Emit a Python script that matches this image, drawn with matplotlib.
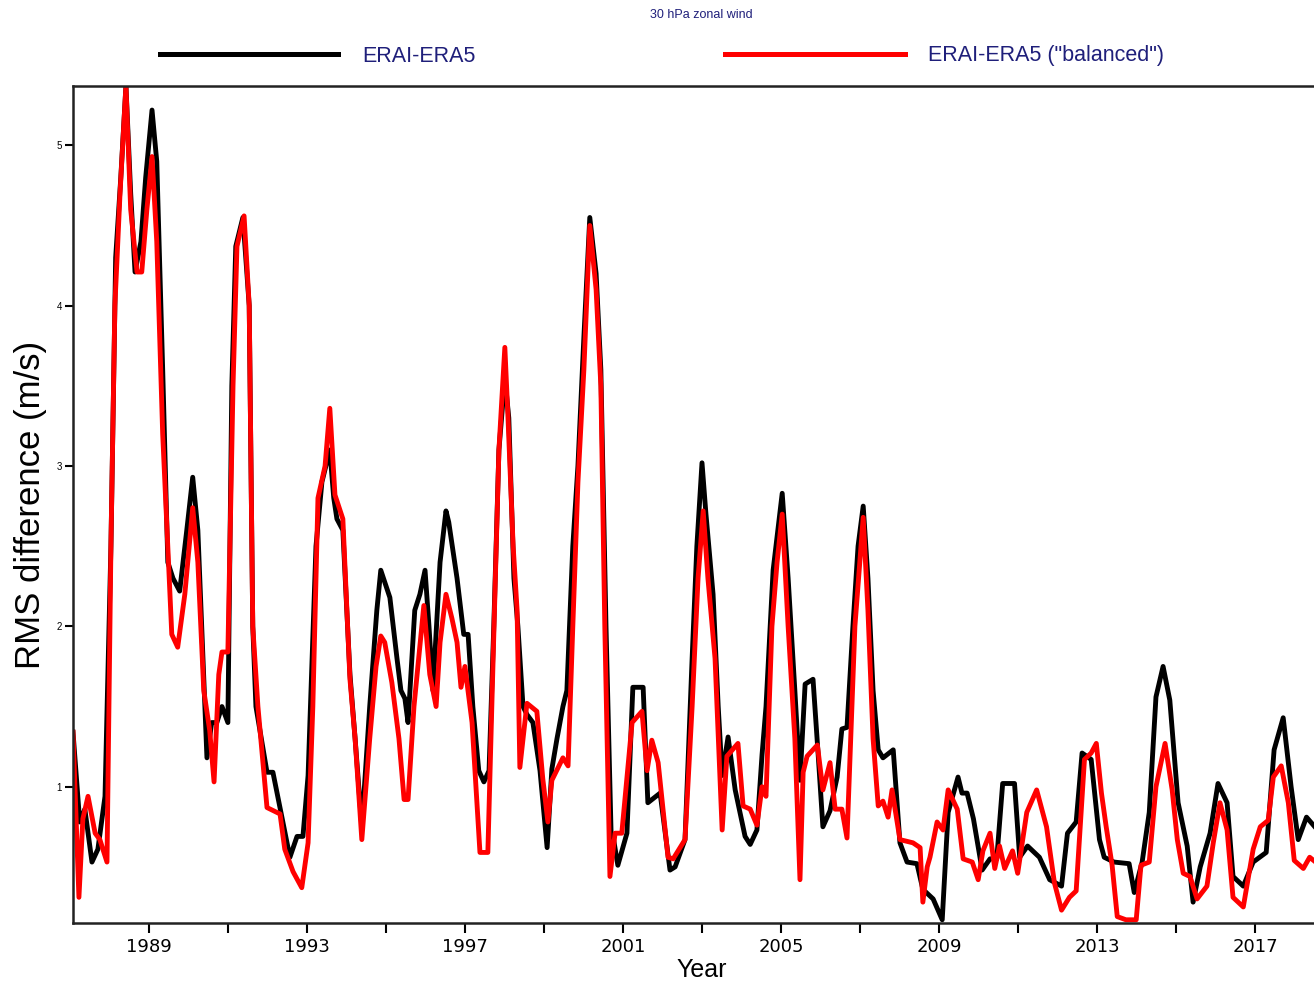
import matplotlib
matplotlib.use("Agg")
import matplotlib.pyplot as plt
from matplotlib.lines import Line2D
from matplotlib.ticker import MultipleLocator

plt.rcParams['font.family'] = ['Liberation Sans', 'DejaVu Sans']

# ERAI-ERA5 (black)
years_black = [1987.08, 1987.25, 1987.38, 1987.56, 1987.71, 1987.89, 1988.04, 1988.16, 1988.29, 1988.42,
               1988.54, 1988.65, 1988.80, 1988.92, 1989.08, 1989.20, 1989.35, 1989.48, 1989.61, 1989.78,
               1989.96, 1990.11, 1990.24, 1990.37, 1990.47, 1990.59, 1990.72, 1990.85, 1991.00, 1991.10,
               1991.20, 1991.38, 1991.54, 1991.63, 1991.71, 1991.99, 1992.14, 1992.57, 1992.75, 1992.90,
               1993.03, 1993.23, 1993.38, 1993.58, 1993.68, 1993.76, 1993.91, 1994.09, 1994.22, 1994.39,
               1994.59, 1994.77, 1994.87, 1995.10, 1995.28, 1995.38, 1995.48, 1995.56, 1995.73, 1995.86,
               1995.99, 1996.09, 1996.19, 1996.37, 1996.52, 1996.59, 1996.80, 1996.97, 1997.08, 1997.20,
               1997.35, 1997.48, 1997.61, 1997.73, 1997.86, 1998.01, 1998.11, 1998.24, 1998.34, 1998.47,
               1998.57, 1998.72, 1998.90, 1999.08, 1999.20, 1999.33, 1999.48, 1999.58, 1999.73, 1999.86,
               2000.01, 2000.16, 2000.32, 2000.44, 2000.57, 2000.70, 2000.75, 2000.87, 2001.10, 2001.25,
               2001.51, 2001.63, 2001.89, 2001.94, 2002.19, 2002.32, 2002.57, 2002.75, 2002.87, 2003.00,
               2003.10, 2003.28, 2003.41, 2003.51, 2003.66, 2003.84, 2004.09, 2004.22, 2004.39, 2004.52,
               2004.62, 2004.80, 2004.92, 2005.03, 2005.18, 2005.35, 2005.48, 2005.61, 2005.81, 2005.94,
               2006.06, 2006.24, 2006.42, 2006.54, 2006.67, 2006.82, 2006.95, 2007.08, 2007.20, 2007.33,
               2007.46, 2007.58, 2007.84, 2008.01, 2008.19, 2008.44, 2008.59, 2008.85, 2009.08, 2009.23,
               2009.48, 2009.58, 2009.71, 2009.87, 2010.09, 2010.29, 2010.46, 2010.61, 2010.91, 2011.04,
               2011.24, 2011.54, 2011.80, 2012.10, 2012.25, 2012.47, 2012.62, 2012.85, 2013.06, 2013.18,
               2013.43, 2013.81, 2013.94, 2014.14, 2014.32, 2014.49, 2014.67, 2014.84, 2015.05, 2015.28,
               2015.43, 2015.61, 2015.86, 2016.06, 2016.29, 2016.44, 2016.70, 2016.95, 2017.28, 2017.48,
               2017.71, 2017.91, 2018.09, 2018.30, 2018.51]
rms_black = [1.34, 0.78, 0.86, 0.53, 0.61, 0.94, 2.50, 4.30, 4.80, 5.37,
             4.70, 4.21, 4.40, 4.80, 5.22, 4.90, 3.60, 2.40, 2.30, 2.22,
             2.60, 2.93, 2.60, 1.80, 1.18, 1.40, 1.40, 1.50, 1.40, 3.50,
             4.37, 4.55, 4.00, 2.00, 1.50, 1.09, 1.09, 0.56, 0.69, 0.69,
             1.07, 2.50, 2.90, 3.10, 2.80, 2.67, 2.60, 1.70, 1.30, 0.75,
             1.50, 2.10, 2.35, 2.18, 1.80, 1.60, 1.55, 1.40, 2.10, 2.20,
             2.35, 2.00, 1.60, 2.40, 2.72, 2.65, 2.30, 1.95, 1.95, 1.50,
             1.10, 1.03, 1.10, 2.00, 3.10, 3.55, 3.30, 2.30, 2.00, 1.50,
             1.45, 1.40, 1.10, 0.62, 1.11, 1.30, 1.50, 1.60, 2.50, 3.00,
             3.80, 4.55, 4.20, 3.60, 2.00, 0.70, 0.69, 0.51, 0.71, 1.62,
             1.62, 0.90, 0.95, 0.96, 0.48, 0.50, 0.67, 1.80, 2.50, 3.02,
             2.70, 2.20, 1.50, 1.07, 1.31, 0.98, 0.69, 0.64, 0.73, 1.20,
             1.50, 2.35, 2.60, 2.83, 2.30, 1.60, 1.04, 1.64, 1.67, 1.20,
             0.75, 0.85, 1.06, 1.36, 1.37, 2.00, 2.50, 2.75, 2.30, 1.60,
             1.23, 1.18, 1.23, 0.65, 0.53, 0.52, 0.36, 0.30, 0.17, 0.84,
             1.06, 0.96, 0.96, 0.80, 0.48, 0.55, 0.55, 1.02, 1.02, 0.56,
             0.63, 0.56, 0.42, 0.38, 0.71, 0.78, 1.21, 1.17, 0.67, 0.56,
             0.53, 0.52, 0.34, 0.53, 0.84, 1.56, 1.75, 1.54, 0.90, 0.63,
             0.28, 0.50, 0.71, 1.02, 0.90, 0.44, 0.38, 0.53, 0.59, 1.23,
             1.43, 1.00, 0.67, 0.81, 0.75]

# ERAI-ERA5 ("balanced") (red)
years_red = [1987.08, 1987.23, 1987.33, 1987.46, 1987.64, 1987.76, 1987.94, 1988.04, 1988.14, 1988.27,
             1988.42, 1988.54, 1988.70, 1988.82, 1988.95, 1989.08, 1989.20, 1989.35, 1989.48, 1989.58,
             1989.73, 1989.91, 1990.11, 1990.24, 1990.39, 1990.54, 1990.65, 1990.77, 1990.85, 1991.00,
             1991.13, 1991.23, 1991.41, 1991.54, 1991.63, 1991.76, 1991.99, 1992.32, 1992.44, 1992.65,
             1992.87, 1993.03, 1993.15, 1993.28, 1993.46, 1993.58, 1993.71, 1993.91, 1994.09, 1994.22,
             1994.39, 1994.59, 1994.75, 1994.87, 1994.97, 1995.15, 1995.33, 1995.46, 1995.56, 1995.71,
             1995.96, 1996.11, 1996.27, 1996.37, 1996.52, 1996.67, 1996.80, 1996.90, 1997.00, 1997.18,
             1997.38, 1997.58, 1997.68, 1997.86, 1998.01, 1998.09, 1998.22, 1998.32, 1998.39, 1998.57,
             1998.82, 1998.97, 1999.10, 1999.20, 1999.48, 1999.61, 1999.73, 1999.86, 2000.01, 2000.16,
             2000.32, 2000.44, 2000.54, 2000.67, 2000.80, 2000.97, 2001.23, 2001.48, 2001.61, 2001.73,
             2001.89, 2002.14, 2002.27, 2002.57, 2002.75, 2002.90, 2003.03, 2003.15, 2003.33, 2003.51,
             2003.63, 2003.91, 2004.04, 2004.22, 2004.39, 2004.52, 2004.62, 2004.77, 2004.90, 2005.03,
             2005.18, 2005.35, 2005.48, 2005.56, 2005.66, 2005.92, 2006.06, 2006.24, 2006.37, 2006.54,
             2006.67, 2006.87, 2007.08, 2007.20, 2007.33, 2007.46, 2007.58, 2007.71, 2007.81, 2008.01,
             2008.34, 2008.52, 2008.59, 2008.70, 2008.77, 2008.95, 2009.10, 2009.23, 2009.46, 2009.61,
             2009.84, 2009.99, 2010.11, 2010.29, 2010.41, 2010.53, 2010.66, 2010.86, 2010.99, 2011.22,
             2011.47, 2011.72, 2011.92, 2012.10, 2012.30, 2012.47, 2012.68, 2012.85, 2012.98, 2013.11,
             2013.23, 2013.38, 2013.51, 2013.73, 2013.99, 2014.11, 2014.32, 2014.49, 2014.72, 2014.90,
             2015.03, 2015.18, 2015.35, 2015.53, 2015.78, 2015.94, 2016.11, 2016.29, 2016.44, 2016.70,
             2016.95, 2017.13, 2017.33, 2017.46, 2017.66, 2017.84, 2017.99, 2018.22, 2018.38, 2018.53]
rms_red = [1.34, 0.31, 0.80, 0.94, 0.71, 0.67, 0.53, 2.50, 4.00, 4.70,
           5.37, 4.60, 4.21, 4.21, 4.60, 4.93, 4.40, 3.20, 2.50, 1.95,
           1.87, 2.20, 2.74, 2.40, 1.60, 1.35, 1.03, 1.70, 1.84, 1.84,
           3.50, 4.37, 4.56, 4.00, 2.00, 1.50, 0.87, 0.83, 0.61, 0.47,
           0.37, 0.65, 1.50, 2.80, 3.00, 3.36, 2.82, 2.67, 1.67, 1.30,
           0.67, 1.30, 1.75, 1.94, 1.90, 1.65, 1.30, 0.92, 0.92, 1.50,
           2.13, 1.70, 1.50, 1.90, 2.20, 2.05, 1.90, 1.62, 1.75, 1.40,
           0.59, 0.59, 1.50, 3.10, 3.74, 3.30, 2.50, 2.10, 1.12, 1.52,
           1.47, 1.05, 0.78, 1.04, 1.18, 1.13, 2.00, 2.90, 3.60, 4.50,
           4.10, 3.50, 2.00, 0.44, 0.71, 0.71, 1.40, 1.47, 1.10, 1.29,
           1.15, 0.56, 0.55, 0.67, 1.50, 2.30, 2.72, 2.30, 1.80, 0.73,
           1.19, 1.27, 0.88, 0.86, 0.76, 1.00, 0.94, 2.00, 2.40, 2.70,
           2.00, 1.30, 0.42, 1.09, 1.19, 1.26, 0.98, 1.15, 0.86, 0.86,
           0.68, 2.00, 2.68, 2.10, 1.30, 0.88, 0.91, 0.81, 0.98, 0.67,
           0.65, 0.62, 0.28, 0.50, 0.56, 0.78, 0.73, 0.98, 0.86, 0.55,
           0.53, 0.42, 0.60, 0.71, 0.49, 0.63, 0.49, 0.60, 0.46, 0.84,
           0.98, 0.75, 0.40, 0.23, 0.31, 0.35, 1.17, 1.21, 1.27, 0.96,
           0.75, 0.51, 0.19, 0.17, 0.17, 0.51, 0.53, 1.00, 1.27, 0.98,
           0.67, 0.46, 0.44, 0.30, 0.38, 0.65, 0.90, 0.73, 0.31, 0.25,
           0.61, 0.75, 0.79, 1.06, 1.13, 0.90, 0.54, 0.49, 0.56, 0.53]

label_black = "ERAI-ERA5"
label_red = 'ERAI-ERA5 ("balanced")'
title = "30 hPa zonal wind"
navy = "#1f1f7a"

fig = plt.figure(figsize=(13.14, 9.84), dpi=100)
# the plot box runs a little past the right edge of the picture
ax = fig.add_axes([73 / 1314, 0.062, 1258 / 1314, 0.8506])

ax.plot(years_black, rms_black, color="black", lw=3.5, solid_joinstyle="round")
ax.plot(years_red, rms_red, color="red", lw=3.5, solid_joinstyle="round")

ax.set_xlim(1987.08, 2018.92)
ax.set_ylim(0.15, 5.37)
ax.xaxis.set_major_locator(MultipleLocator(4, offset=1))
ax.xaxis.set_minor_locator(MultipleLocator(4, offset=3))
ax.yaxis.set_major_locator(MultipleLocator(1))
ax.tick_params(axis="x", which="both", direction="out", length=7, width=1.5, labelsize=13, pad=4)
ax.tick_params(axis="y", direction="out", length=6, width=1.5, labelsize=7, pad=2)
for lab in ax.get_xticklabels():
    lab.set_family("DejaVu Sans")
ax.spines["right"].set_visible(False)
for s in ["left", "bottom", "top"]:
    ax.spines[s].set_linewidth(1.8)
    ax.spines[s].set_color("#222222")

ax.set_xlabel("Year", fontsize=18, labelpad=1)
ax.set_ylabel("RMS difference (m/s)", fontsize=25, labelpad=7)

# title and legend above the plot
fig.text(701 / 1314, 1 - 15 / 984, title, fontsize=9, color=navy, ha="center", va="center")
fig.add_artist(Line2D([160 / 1314, 338 / 1314], [1 - 54 / 984] * 2, color="black", lw=3.6))
fig.add_artist(Line2D([725 / 1314, 905 / 1314], [1 - 54 / 984] * 2, color="red", lw=3.6))
fig.text(362 / 1314, 1 - 56 / 984, label_black, fontsize=15.5, color=navy, va="center")
fig.text(928 / 1314, 1 - 56 / 984, label_red, fontsize=15.5, color=navy, va="center")

fig.savefig("out.png", dpi=100)
